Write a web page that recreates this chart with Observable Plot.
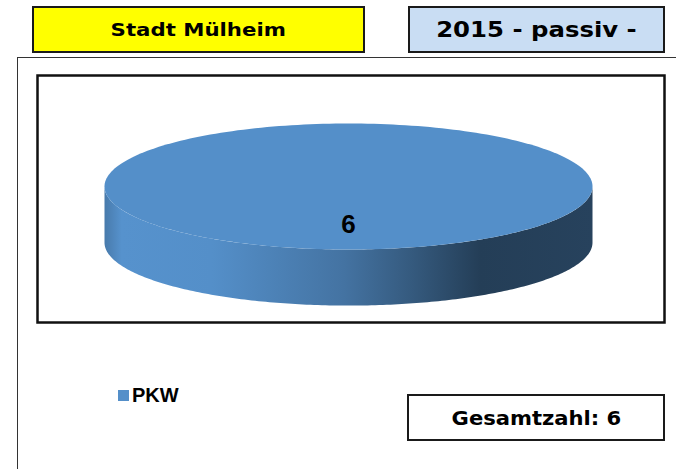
<!DOCTYPE html>
<html><head><meta charset="utf-8">
<script src="https://cdn.jsdelivr.net/npm/d3@7"></script>
<script src="https://cdn.jsdelivr.net/npm/@observablehq/plot@0.6"></script>
<style>
body{margin:0;background:#fff;}
#page{position:relative;width:676px;height:469px;overflow:hidden;font-family:"DejaVu Sans",Verdana,sans-serif;background:#fff;}
.box{position:absolute;box-sizing:border-box;border:2px solid #1a1a1a;display:flex;align-items:center;justify-content:center;font-weight:bold;color:#000;white-space:nowrap;}
.box span{display:inline-block;}
.line{position:absolute;background:#333;}
#chart{position:absolute;left:35px;top:73px;}
#legend{position:absolute;left:118px;top:384px;display:flex;align-items:center;font-family:"Liberation Sans",Arial,sans-serif;font-weight:bold;font-size:20px;color:#000;}
#legend .sw{width:11px;height:11px;margin-right:3px;}
</style></head><body><div id="page"></div>
<script>
const title = "Stadt Mülheim";
const subtitle = "2015 - passiv -";
const categories = ["PKW"];
const values = [6];
const colors = ["#548FC9"];
const totalText = "Gesamtzahl: ";

const page = document.getElementById("page");
function box(text, left, top, w, h, bg, fs, sx) {
  const d = document.createElement("div");
  d.className = "box";
  Object.assign(d.style, {left: left + "px", top: top + "px", width: w + "px", height: h + "px", background: bg, fontSize: fs + "px"});
  const s = document.createElement("span");
  s.textContent = text;
  s.style.transform = "scaleX(" + sx + ")";
  d.appendChild(s);
  page.appendChild(d);
}
function line(left, top, w, h) {
  const d = document.createElement("div");
  d.className = "line";
  Object.assign(d.style, {left: left + "px", top: top + "px", width: w + "px", height: h + "px"});
  page.appendChild(d);
}
box(title, 32, 6, 333, 47, "#FFFF00", 18.5, 1.15);
box(subtitle, 408, 6, 257, 47, "#C9DDF3", 21, 1.16);
line(17, 57, 659, 1);
line(17, 57, 1, 412);

// pie geometry
const depth = 0.89;
const slices = d3.pie().sort(null).startAngle(0).endAngle(2 * Math.PI)(values);
const topPts = [], sidePts = [], labels = [];
slices.forEach((s, i) => {
  const span = s.endAngle - s.startAngle;
  const n = Math.max(4, Math.ceil(span / (2 * Math.PI) * 240));
  if (span < 2 * Math.PI - 1e-9) topPts.push({slice: i, x: 0, y: 0});
  for (let k = 0; k <= n; k++) {
    const a = s.startAngle + span * k / n;
    topPts.push({slice: i, x: Math.sin(a), y: -Math.cos(a)});
  }
  // front side: angles in [pi/2, 3pi/2]
  const a0 = Math.max(s.startAngle, Math.PI / 2), a1 = Math.min(s.endAngle, 3 * Math.PI / 2);
  if (a1 > a0) {
    const m = 200, fwd = [], back = [];
    for (let k = 0; k <= m; k++) {
      const a = a0 + (a1 - a0) * k / m;
      fwd.push({slice: i, x: Math.sin(a), y: -Math.cos(a)});
      back.push({slice: i, x: Math.sin(a), y: -Math.cos(a) + depth});
    }
    sidePts.push(...fwd, ...back.reverse());
  }
  const mid = (s.startAngle + s.endAngle) / 2;
  labels.push({x: Math.sin(mid) * 0.6, y: -Math.cos(mid) * 0.6, text: String(s.value)});
});

const chart = Plot.plot({
  width: 631, height: 251, margin: 0,
  x: {domain: [-1, 1], range: [69, 557], axis: null},
  y: {domain: [-1, 1], range: [50, 176], axis: null},
  style: {overflow: "visible", background: "transparent"},
  marks: [
    () => {
      const svg = d3.create("svg:defs");
      colors.forEach((c, i) => {
        const g = svg.append("linearGradient").attr("id", "side" + i).attr("gradientUnits", "userSpaceOnUse")
          .attr("x1", 69).attr("x2", 557).attr("y1", 0).attr("y2", 0);
        const base = d3.color(c);
        [[0, base.darker(0.45)], [0.035, base.brighter(0.06)], [0.22, base], [0.49, base.darker(0.6)], [0.63, base.darker(1.3)], [0.77, base.darker(2.35)], [1, base.darker(2.15)]]
          .forEach(([o, col]) => g.append("stop").attr("offset", o).attr("stop-color", col.formatHex()));
      });
      return svg.node();
    },
    Plot.line(sidePts, {x: "x", y: "y", z: "slice", fill: d => "url(#side" + d.slice + ")", stroke: "none", curve: "linear-closed"}),
    Plot.line(topPts, {x: "x", y: "y", z: "slice", fill: d => colors[d.slice], stroke: "none", curve: "linear-closed"}),
    Plot.text(labels, {x: "x", y: "y", text: "text", fontSize: 26, fontWeight: "bold", fill: "#000", fontFamily: "Liberation Sans, Arial, sans-serif"}),
    Plot.frame({stroke: "#111", strokeWidth: 2.5, inset: 2})
  ]
});
chart.id = "chart";
page.appendChild(chart);

const legend = document.createElement("div");
legend.id = "legend";
categories.forEach((c, i) => {
  const sw = document.createElement("span"); sw.className = "sw"; sw.style.background = colors[i];
  const t = document.createElement("span"); t.textContent = c;
  legend.appendChild(sw); legend.appendChild(t);
});
page.appendChild(legend);

box(totalText + d3.sum(values), 407, 394, 258, 47, "#fff", 19, 1.11);
</script></body></html>
